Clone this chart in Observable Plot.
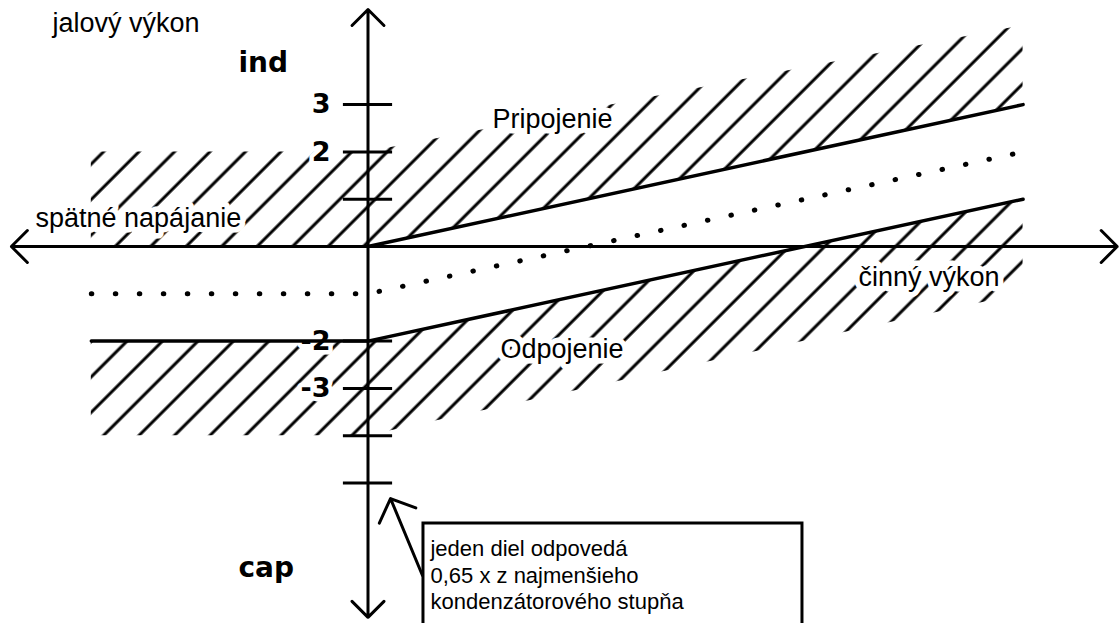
<!DOCTYPE html>
<html><head><meta charset="utf-8">
<script src="https://cdn.jsdelivr.net/npm/d3@7"></script>
<script src="https://cdn.jsdelivr.net/npm/@observablehq/plot@0.6"></script>
<style>html,body{margin:0;padding:0;background:#fff;overflow:hidden}</style>
</head><body><div id="chart"></div>
<script>
// ---- data (units = one "diel" on both axes) ----
const yTicks = [3, 2, 1, -2, -3, -4, -5];
const yTickLabels = [{v: 3, t: "3"}, {v: 2, t: "2"}, {v: -2, t: "-2"}, {v: -3, t: "-3"}];
const pripojenie = [{x: 0, y: 0}, {x: 13.85, y: 3}];
const odpojenie = [{x: -5.85, y: -2}, {x: 0, y: -2}, {x: 13.85, y: 1}];
const dotted = [{x: -5.85, y: -1}, {x: 0, y: -1}, {x: 13.85, y: 2}];
const hatchUpper = [{x: -5.85, lo: 0, hi: 2}, {x: 0, lo: 0, hi: 2}, {x: 13.85, lo: 3, hi: 4.67}];
const hatchLower = [{x: -5.85, lo: -4, hi: -2}, {x: 0, lo: -4, hi: -2}, {x: 13.85, lo: -1, hi: 1}];
const hatchSpacing = 0.75;   // horizontal spacing of hatch lines (units)
const hatchPhase = -0.075;   // hatch lines pass where x - y = phase (mod spacing)
const axisArrows = [
  {x1: 0, y1: 0, x2: 15.84, y2: 0},
  {x1: 0, y1: 0, x2: -7.54, y2: 0},
  {x1: 0, y1: 0, x2: 0, y2: 5.01},
  {x1: 0, y1: 0, x2: 0, y2: -7.84}
];
const labels = [
  {t: "jalový výkon", x: -6.67, y: 4.535},
  {t: "spätné napájanie", x: -7.03, y: 0.423},
  {t: "Pripojenie", x: 2.632, y: 2.495},
  {t: "Odpojenie", x: 2.80, y: -2.347},
  {t: "činný výkon", x: 10.37, y: -0.825}
];
const sideLabels = [{t: "ind", x: -2.738, y: 3.679}, {t: "cap", x: -2.738, y: -6.977}];
const noteLines = [
  {t: "jeden diel odpovedá", x: 1.321, y: -6.533},
  {t: "0,65 x z najmenšieho", x: 1.321, y: -7.104},
  {t: "kondenzátorového stupňa", x: 1.321, y: -7.653}
];
const noteBox = [{x1: 1.173, x2: 9.186, y1: -5.856, y2: -9.5}];
const pointer = [{x1: 1.152, y1: -6.956, x2: 0.476, y2: -5.328}];

const sans = "Liberation Sans, Arial, Helvetica, sans-serif";
const cad = "DejaVu Sans, sans-serif";

const plot = Plot.plot({
  width: 1120, height: 623, margin: 0,
  x: {domain: [-7.77, 15.91], axis: null},
  y: {domain: [-7.97, 5.201], axis: null},
  style: {background: "white", overflow: "hidden"},
  marks: [
    Plot.areaY(hatchUpper, {x: "x", y1: "lo", y2: "hi", fill: "url(#hatch)"}),
    Plot.areaY(hatchLower, {x: "x", y1: "lo", y2: "hi", fill: "url(#hatch)"}),
    // white knock-out halos behind texts
    Plot.text(labels, {x: "x", y: "y", text: "t", textAnchor: "start", lineAnchor: "bottom", fontSize: 27, fontFamily: sans, fill: "white", stroke: "white", strokeWidth: 11, strokeLinejoin: "round"}),
    Plot.text(yTickLabels, {x: -0.793, y: "v", text: "t", textAnchor: "end", fontSize: 27, fontWeight: "bold", fontFamily: cad, fill: "white", stroke: "white", strokeWidth: 9, strokeLinejoin: "round"}),
    // lines
    Plot.line(dotted, {x: "x", y: "y", stroke: "black", strokeWidth: 5, strokeDasharray: "0.5 23.5", strokeLinecap: "round"}),
    Plot.line(pripojenie, {x: "x", y: "y", stroke: "black", strokeWidth: 3.5}),
    Plot.line(odpojenie, {x: "x", y: "y", stroke: "black", strokeWidth: 3.5}),
    // axes
    Plot.arrow(axisArrows, {x1: "x1", y1: "y1", x2: "x2", y2: "y2", stroke: "black", strokeWidth: 3, headAngle: 90, headLength: 11.3, strokeLinecap: "round"}),
    Plot.ruleY(yTicks, {y: d => d, x1: -0.52, x2: 0.52, stroke: "black", strokeWidth: 3}),
    // note box and pointer
    Plot.rect(noteBox, {x1: "x1", x2: "x2", y1: "y1", y2: "y2", fill: "none", stroke: "black", strokeWidth: 3}),
    Plot.arrow(pointer, {x1: "x1", y1: "y1", x2: "x2", y2: "y2", stroke: "black", strokeWidth: 3, headAngle: 94, headLength: 13.5, strokeLinecap: "round"}),
    // texts
    Plot.text(labels, {x: "x", y: "y", text: "t", textAnchor: "start", lineAnchor: "bottom", fontSize: 27, fontFamily: sans, fill: "black"}),
    Plot.text(noteLines, {x: "x", y: "y", text: "t", textAnchor: "start", lineAnchor: "bottom", fontSize: 22, fontFamily: sans, fill: "black"}),
    Plot.text(sideLabels, {x: "x", y: "y", text: "t", textAnchor: "start", lineAnchor: "bottom", fontSize: 28, fontWeight: "bold", fontFamily: cad, fill: "black"}),
    Plot.text(yTickLabels, {x: -0.793, y: "v", text: "t", textAnchor: "end", fontSize: 27, fontWeight: "bold", fontFamily: cad, fill: "black"})
  ]
});

// hatch pattern aligned to the data coordinate system
const sx = plot.scale("x"), sy = plot.scale("y");
const px0 = sx.apply(hatchPhase), py0 = sy.apply(0);
const period = sx.apply(hatchSpacing) - sx.apply(0);
const c = ((px0 + py0) % period + period) % period;
const W = period / Math.SQRT2;
const a = c / Math.SQRT2;
const svg = d3.select(plot);
const defs = svg.insert("defs", ":first-child");
const pat = defs.append("pattern")
  .attr("id", "hatch")
  .attr("patternUnits", "userSpaceOnUse")
  .attr("width", W).attr("height", W)
  .attr("patternTransform", "rotate(45)");
pat.append("line")
  .attr("x1", a).attr("x2", a).attr("y1", -2).attr("y2", W + 2)
  .attr("stroke", "black").attr("stroke-width", 3);

document.getElementById("chart").appendChild(plot);
</script>
</body></html>
